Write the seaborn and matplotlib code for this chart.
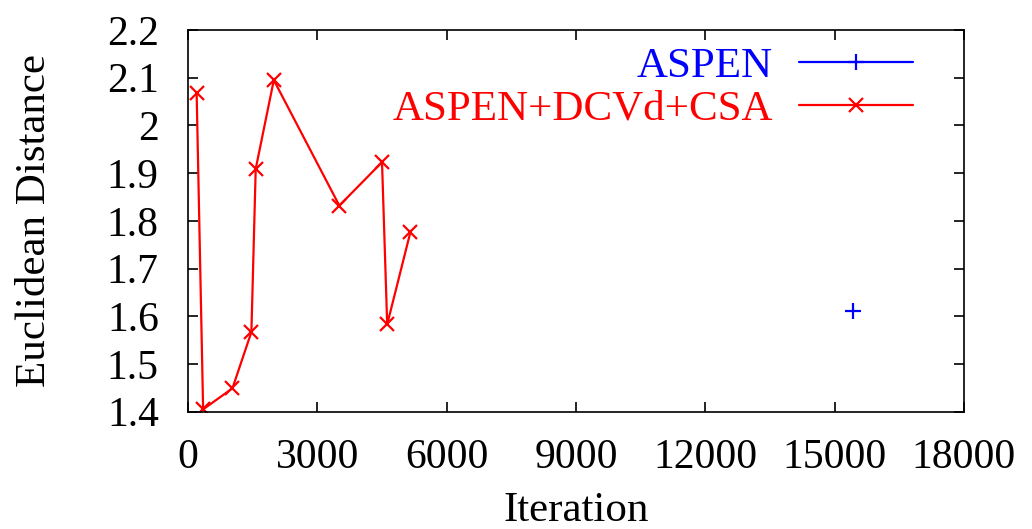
import numpy as np
import pandas as pd
import seaborn as sns
import matplotlib
matplotlib.use('Agg')
import matplotlib.pyplot as plt

aspen_iter = [15420]
aspen_dist = [1.611]

dcsa_iter = [200, 350, 1030, 1470, 1570, 1990, 3510, 4500, 4620, 5160]
dcsa_dist = [2.067, 1.405, 1.449, 1.567, 1.909, 2.095, 1.832, 1.923, 1.583, 1.777]

x_ticks = [0, 3000, 6000, 9000, 12000, 15000, 18000]
y_ticks = [1.4, 1.5, 1.6, 1.7, 1.8, 1.9, 2.0, 2.1, 2.2]
y_labels = ['1.4', '1.5', '1.6', '1.7', '1.8', '1.9', '2', '2.1', '2.2']

sns.set_style('ticks')
plt.rcParams['font.family'] = ['Liberation Serif', 'DejaVu Serif']
plt.rcParams['text.color'] = 'black'
plt.rcParams['axes.labelcolor'] = 'black'

fig = plt.figure(figsize=(10.32, 5.29), dpi=100)
ax = fig.add_axes([0.1822, 0.2217, 0.7519, 0.7216])

df_a = pd.DataFrame({'Iteration': aspen_iter, 'Dist': aspen_dist})
df_d = pd.DataFrame({'Iteration': dcsa_iter, 'Dist': dcsa_dist})

sns.lineplot(data=df_a, x='Iteration', y='Dist', ax=ax, color='blue', marker='+',
             markersize=11, markeredgewidth=1.6, markeredgecolor='blue',
             linewidth=1.6, sort=False, estimator=None, label='ASPEN')
sns.lineplot(data=df_d, x='Iteration', y='Dist', ax=ax, color='red', marker='x',
             markersize=10, markeredgewidth=1.6, markeredgecolor='red',
             linewidth=1.6, sort=False, estimator=None, label='ASPEN+DCVd+CSA')

ax.set_xlim(0, 18000)
ax.set_ylim(1.4, 2.2)
ax.set_xticks(x_ticks)
ax.set_yticks(y_ticks)
ax.set_yticklabels(y_labels)
ax.tick_params(direction='in', length=7, width=1.2, labelsize=30, top=True, right=True,
               colors='black', labelcolor='black')
ax.tick_params(axis='x', pad=19)
ax.tick_params(axis='y', pad=21)
for s in ax.spines.values():
    s.set_visible(True)
    s.set_linewidth(1.2)
    s.set_color('black')

ax.set_xlabel('Iteration', fontsize=31, labelpad=11)
ax.set_ylabel('Euclidean Distance', fontsize=31, labelpad=38)

leg = ax.legend(loc='upper right', bbox_to_anchor=(0.934, 0.955), frameon=False,
                markerfirst=False, fontsize=31, handlelength=2.65, handletextpad=0.6,
                labelspacing=0.08, borderaxespad=0, borderpad=0)
for txt, col in zip(leg.get_texts(), ['blue', 'red']):
    txt.set_color(col)

fig.savefig('out.png', dpi=100)
